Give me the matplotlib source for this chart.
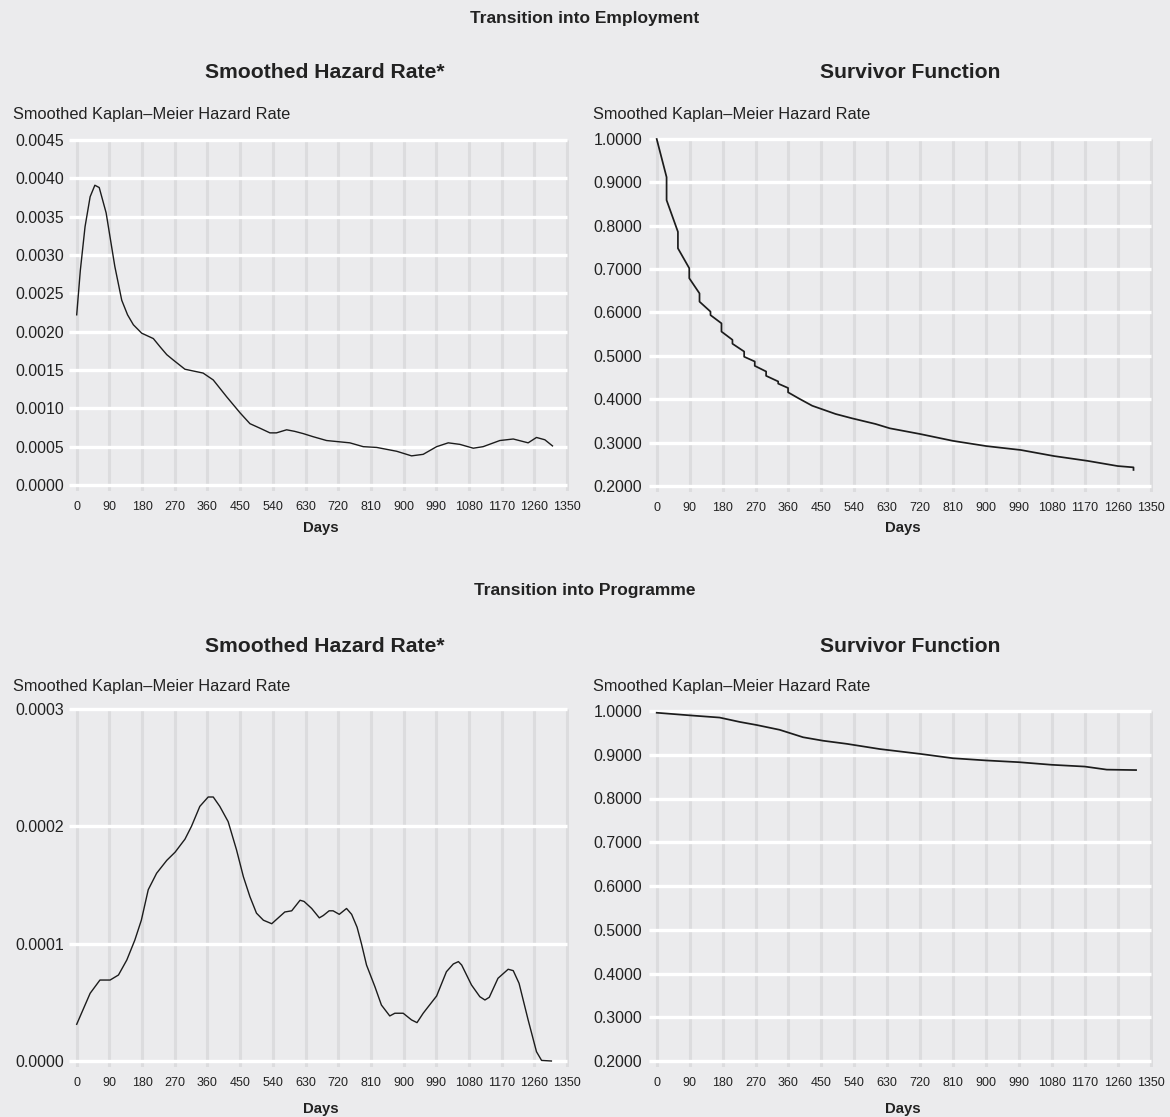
import matplotlib
matplotlib.use("Agg")
import matplotlib.pyplot as plt

W, H = 1170, 1117
BG = "#ebebed"
VGRID = "#dcdcde"
LINE = "#1c1c1c"
TXT = "#222222"
FONT = ["Liberation Sans", "DejaVu Sans"]

# ---------------- data ----------------
x_ticks = [0, 90, 180, 270, 360, 450, 540, 630, 720, 810, 900, 990, 1080, 1170, 1260, 1350]

emp_haz_days = [0, 10, 23, 37, 50, 62, 81, 105, 124, 140, 156, 179, 211, 230, 248, 266, 298, 348,
                376, 413, 450, 477, 505, 532, 550, 578, 600, 624, 651, 688, 752, 789, 826, 881,
                922, 954, 991, 1023, 1055, 1092, 1119, 1165, 1202, 1243, 1266, 1289, 1310]
emp_haz = [0.00222, 0.00280, 0.00337, 0.00376, 0.00391, 0.00388, 0.00355, 0.00285, 0.00241,
           0.00222, 0.00209, 0.00198, 0.00191, 0.00180, 0.00170, 0.00163, 0.00151, 0.00146,
           0.00137, 0.00115, 0.00094, 0.00080, 0.00074, 0.00068, 0.00068, 0.00072, 0.00070,
           0.00067, 0.00063, 0.00058, 0.00055, 0.00050, 0.00049, 0.00044, 0.00038, 0.00040,
           0.00050, 0.00055, 0.00053, 0.00048, 0.00050, 0.00058, 0.00060, 0.00055, 0.00062,
           0.00059, 0.00051]

emp_surv_days = [0, 27, 27, 58, 58, 89, 89, 117, 117, 147, 147, 177, 177, 207, 207, 239, 239,
                 268, 268, 299, 299, 332, 332, 359, 359, 388, 425, 452, 489, 534, 598, 637, 719,
                 810, 901, 995, 1086, 1177, 1260, 1303, 1303]
emp_surv = [1.000, 0.912, 0.859, 0.786, 0.748, 0.702, 0.679, 0.644, 0.625, 0.602, 0.594, 0.575,
            0.556, 0.537, 0.528, 0.510, 0.498, 0.487, 0.477, 0.464, 0.454, 0.441, 0.436, 0.426,
            0.416, 0.402, 0.385, 0.377, 0.366, 0.356, 0.343, 0.333, 0.320, 0.304, 0.292, 0.283,
            0.269, 0.258, 0.246, 0.243, 0.237]

prog_haz_days = [0, 37, 64, 92, 115, 138, 160, 178, 197, 220, 248, 271, 293, 298, 316, 339, 362,
                 376, 394, 417, 440, 459, 477, 495, 514, 537, 555, 573, 592, 615, 626, 647, 668,
                 679, 695, 706, 723, 743, 757, 772, 784, 798, 821, 839, 862, 876, 899, 922, 937,
                 954, 968, 991, 1018, 1037, 1051, 1060, 1087, 1110, 1124, 1136, 1160, 1188, 1202,
                 1218, 1243, 1266, 1280, 1307]
prog_haz = [0.0000313, 0.0000577, 0.0000690, 0.0000690, 0.0000733, 0.0000861, 0.000103, 0.000120,
            0.000146, 0.000160, 0.000171, 0.000178, 0.000187, 0.000189, 0.000200, 0.000217,
            0.000225, 0.000225, 0.000217, 0.000204, 0.000180, 0.000157, 0.000140, 0.000126,
            0.000120, 0.000117, 0.000122, 0.000127, 0.000128, 0.000137, 0.000136, 0.000130,
            0.000122, 0.000124, 0.000128, 0.000128, 0.000125, 0.000130, 0.000125, 0.000114,
            0.000100, 0.0000818, 0.0000634, 0.0000477, 0.0000384, 0.0000407, 0.0000407,
            0.0000350, 0.0000327, 0.0000407, 0.0000463, 0.0000554, 0.0000761, 0.0000827,
            0.0000847, 0.0000818, 0.0000648, 0.0000548, 0.0000520, 0.0000543, 0.0000705,
            0.0000782, 0.0000770, 0.0000662, 0.0000350, 0.0000079, 0.0000005, 0.0]

prog_surv_days = [0, 91, 172, 227, 273, 336, 400, 455, 519, 610, 720, 810, 900, 990, 1080, 1170,
                  1230, 1310]
prog_surv = [0.996, 0.990, 0.985, 0.975, 0.968, 0.957, 0.940, 0.932, 0.925, 0.913, 0.902, 0.892,
             0.887, 0.883, 0.877, 0.873, 0.866, 0.865]

haz_emp_ticks = [0.0, 0.0005, 0.0010, 0.0015, 0.0020, 0.0025, 0.0030, 0.0035, 0.0040, 0.0045]
haz_prog_ticks = [0.0, 0.0001, 0.0002, 0.0003]
surv_ticks = [0.2, 0.3, 0.4, 0.5, 0.6, 0.7, 0.8, 0.9, 1.0]

# ---------------- figure ----------------
fig = plt.figure(figsize=(W / 100, H / 100), dpi=100)
fig.patch.set_facecolor(BG)


def panel(xpx, ypx, yd, yticks, fmt, xs, ys, lw, ypad):
    """xpx: pixel x of day 0 and 1350; ypx: pixel y (from top) of yd[0] and yd[1]."""
    sx = (xpx[1] - xpx[0]) / 1350.0
    sy = (ypx[0] - ypx[1]) / (yd[1] - yd[0])
    xlim = (-22, 1355)
    ylim = (yd[0] - 6.0 / sy, yd[1] + 2.0 / sy)
    left = xpx[0] + (xlim[0]) * sx
    right = xpx[0] + (xlim[1]) * sx
    bottom = ypx[0] - (ylim[0] - yd[0]) * sy
    top = ypx[0] - (ylim[1] - yd[0]) * sy
    ax = fig.add_axes([left / W, 1 - bottom / H, (right - left) / W, (bottom - top) / H])
    ax.set_xlim(*xlim)
    ax.set_ylim(*ylim)
    ax.set_facecolor(BG)
    for s in ax.spines.values():
        s.set_visible(False)
    ax.vlines(x_ticks, ylim[0], yd[1], colors=VGRID, lw=2.2, zorder=1)
    ax.hlines(yticks, xlim[0], 1350, colors="white", lw=2.4, zorder=2)
    ax.plot(xs, ys, color=LINE, lw=lw, zorder=3, solid_joinstyle="round")
    ax.set_xticks(x_ticks)
    ax.set_xticklabels([str(t) for t in x_ticks], family=FONT, fontsize=9.0, color=TXT)
    ax.set_yticks(yticks)
    ax.set_yticklabels([fmt.format(t) for t in yticks], family=FONT, fontsize=11.4, color=TXT)
    ax.tick_params(axis="both", length=0)
    ax.tick_params(axis="x", pad=7)
    ax.tick_params(axis="y", pad=ypad)
    return ax


panel((76.7, 567.0), (485.0, 140.0), (0.0, 0.0045), haz_emp_ticks, "{:.4f}",
      emp_haz_days, emp_haz, 1.0, 3.5)
panel((656.7, 1150.7), (486.0, 139.0), (0.2, 1.0), surv_ticks, "{:.4f}",
      emp_surv_days, emp_surv, 1.25, 4.5)
panel((76.7, 567.0), (1061.0, 709.0), (0.0, 0.0003), haz_prog_ticks, "{:.4f}",
      prog_haz_days, prog_haz, 1.0, 3.5)
panel((656.7, 1150.7), (1061.0, 711.0), (0.2, 1.0), surv_ticks, "{:.4f}",
      prog_surv_days, prog_surv, 1.25, 4.5)


def ftext(x, y, s, **kw):
    fig.text(x / W, 1 - y / H, s, color=TXT, family=FONT, **kw)


ftext(585, 18, "Transition into Employment", fontsize=12.5, weight="bold", ha="center", va="center")
ftext(585, 591, "Transition into Programme", fontsize=12.5, weight="bold", ha="center", va="center")
for yy in (73, 647):
    ftext(325, yy, "Smoothed Hazard Rate*", fontsize=15.2, weight="bold", ha="center", va="center")
    ftext(910, yy, "Survivor Function", fontsize=15.2, weight="bold", ha="center", va="center")
for yy in (115, 686):
    ftext(13, yy, "Smoothed Kaplan\u2013Meier Hazard Rate", fontsize=11.8, ha="left", va="center")
    ftext(593, yy, "Smoothed Kaplan\u2013Meier Hazard Rate", fontsize=11.8, ha="left", va="center")
for yy in (528, 1109):
    ftext(321, yy, "Days", fontsize=10.7, weight="bold", ha="center", va="center")
    ftext(903, yy, "Days", fontsize=10.7, weight="bold", ha="center", va="center")

fig.savefig("out.png", dpi=100, facecolor=BG)
